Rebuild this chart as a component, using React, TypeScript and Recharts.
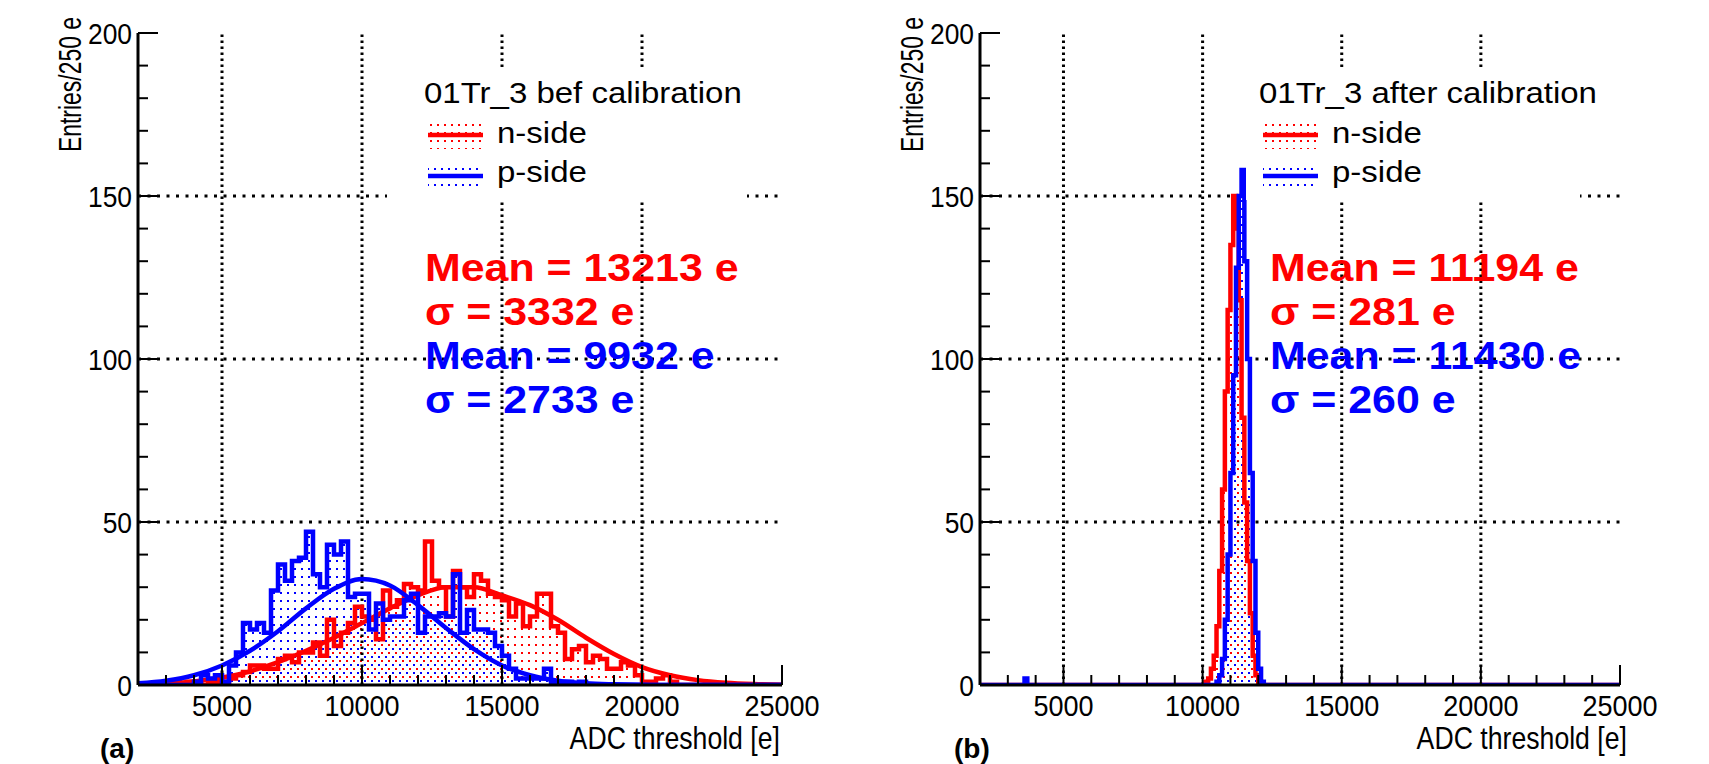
import React from 'react';
import { ComposedChart, Line, Area, XAxis, YAxis, ReferenceLine } from 'recharts';

// ---- panel (a): before calibration, 250 e bins starting at 2000 e ----
const beforeBinStart = 2000;
const beforeBinWidth = 250;
const nSideBefore = [
  0, 0, 0, 0, 0, 1, 0, 1, 1, 0, 1, 1, 1, 2, 3, 4, 6, 6, 5, 5,
  8, 9, 7, 10, 10, 13, 9, 20, 12, 16, 19, 24, 21, 20, 14, 29, 24, 26, 31, 30,
  29, 44, 32, 30, 21, 35, 30, 27, 34, 32, 28, 27, 26, 21, 25, 18, 21, 28, 28, 18,
  16, 8, 11, 12, 7, 9, 8, 5, 5, 7, 6, 3, 1, 1, 2, 3, 1, 0, 0, 0,
  0, 0, 0, 0, 0, 0, 0, 0, 0, 0, 0, 0,
];
const pSideBefore = [
  0, 0, 0, 0, 0, 0, 0, 0, 1, 3, 2, 3, 1, 6, 10, 19, 17, 19, 16, 29,
  37, 32, 38, 39, 47, 34, 30, 43, 40, 44, 27, 28, 28, 17, 25, 20, 21, 21, 26, 28,
  16, 21, 21, 22, 21, 34, 16, 23, 17, 17, 16, 12, 9, 5, 2, 2, 2, 2, 5, 1,
  0, 1, 0, 1, 0, 0, 0, 0, 0, 0, 0, 0, 0, 0, 0, 0, 0, 0, 0, 0,
  0, 0, 0, 0, 0, 0, 0, 0, 0, 0, 0, 0,
];
// gaussian fit curves, read every 1000 e
const fitX = [2000, 3000, 4000, 5000, 6000, 7000, 8000, 9000, 10000, 11000, 12000, 13000,
  14000, 15000, 16000, 17000, 18000, 19000, 20000, 21000, 22000, 23000, 24000, 25000];
const nFitBefore = [0.2, 0.5, 1.1, 2.3, 4.2, 7, 10.5, 14.5, 19, 23.5, 27.5, 30,
  30, 27.5, 24.5, 20, 14.5, 9.5, 5.5, 3, 1.5, 0.7, 0.3, 0.1];
const pFitBefore = [0.5, 1.3, 3, 6, 10.5, 16.5, 23.5, 29.5, 32.5, 30.5, 24.5, 17.5,
  11, 6, 3, 1.3, 0.5, 0.2, 0.05, 0, 0, 0, 0, 0];

// ---- panel (b): after calibration, bin low edges ----
const afterEdges = [2000, 3600, 3700, 10100, 10200, 10300, 10400, 10500, 10600, 10700, 10800,
  10900, 11000, 11100, 11200, 11300, 11400, 11500, 11600, 11700, 11800, 11900, 12000, 12100, 12200, 25000];
const nSideAfter = [0, 0, 0, 1, 2, 5, 9, 18, 35, 60, 90,
  115, 135, 150, 140, 118, 82, 56, 38, 22, 9, 3, 1, 0, 0, 0];
const pSideAfter = [0, 2, 0, 0, 0, 0, 0, 1, 3, 8, 20,
  40, 65, 95, 128, 150, 158, 130, 100, 65, 38, 16, 5, 1, 0, 0];

// ---- axes ----
const xTickValues = [3000, 4000, 5000, 6000, 7000, 8000, 9000, 10000, 11000, 12000, 13000, 14000,
  15000, 16000, 17000, 18000, 19000, 20000, 21000, 22000, 23000, 24000, 25000];
const xMajor = [5000, 10000, 15000, 20000, 25000];
const yTickValues = [0, 10, 20, 30, 40, 50, 60, 70, 80, 90, 100, 110, 120, 130, 140, 150, 160, 170, 180, 190, 200];
const yMajor = [0, 50, 100, 150, 200];
const xGrid = [5000, 10000, 15000, 20000];
const yGrid = [50, 100, 150];

const statsBefore = [
  { text: 'Mean = 13213 e', color: '#ff0000' },
  { text: 'σ = 3332 e', color: '#ff0000' },
  { text: 'Mean = 9932 e', color: '#0000ff' },
  { text: 'σ = 2733 e', color: '#0000ff' },
];
const statsAfter = [
  { text: 'Mean = 11194 e', color: '#ff0000' },
  { text: 'σ = 281 e', color: '#ff0000' },
  { text: 'Mean = 11430 e', color: '#0000ff' },
  { text: 'σ = 260 e', color: '#0000ff' },
];

const RED = '#ff0000';
const BLUE = '#0000ff';
const FONT = "'Liberation Sans', Arial, Helvetica, sans-serif";

const beforeRows = nSideBefore.map((n, i) => {
  const x = beforeBinStart + i * beforeBinWidth;
  const k = fitX.indexOf(x);
  return { x, n, p: pSideBefore[i], nFit: k >= 0 ? nFitBefore[k] : null, pFit: k >= 0 ? pFitBefore[k] : null };
});
beforeRows.push({
  x: beforeBinStart + nSideBefore.length * beforeBinWidth,
  n: nSideBefore[nSideBefore.length - 1],
  p: pSideBefore[pSideBefore.length - 1],
  nFit: nFitBefore[nFitBefore.length - 1],
  pFit: pFitBefore[pFitBefore.length - 1],
});

const afterRows = afterEdges.map((x, i) => ({ x, n: nSideAfter[i], p: pSideAfter[i] }));

const XTick = (props: any) => {
  const { x, y, payload } = props;
  const major = xMajor.includes(payload.value);
  return (
    <g>
      <line x1={x} y1={y} x2={x} y2={y - (major ? 20 : 10)} stroke="#000" strokeWidth={2} />
      {major && (
        <text transform={`translate(${x},${y + 31}) scale(0.9,1)`} textAnchor="middle" fontSize={30}
          fontFamily={FONT} fill="#000">
          {payload.value}
        </text>
      )}
    </g>
  );
};

const YTick = (props: any) => {
  const { x, y, payload } = props;
  const major = yMajor.includes(payload.value);
  return (
    <g>
      <line x1={x} y1={y} x2={x + (major ? 20 : 10)} y2={y} stroke="#000" strokeWidth={2} />
      {major && (
        <text transform={`translate(${x - 6},${y + 11}) scale(0.88,1)`} textAnchor="end" fontSize={30}
          fontFamily={FONT} fill="#000">
          {payload.value}
        </text>
      )}
    </g>
  );
};

type PanelProps = {
  rows: any[];
  withFit: boolean;
  rightMargin: number;
  header: string;
  stats: { text: string; color: string }[];
  panelLabel: string;
  legendX: number;
  box: [number, number];
  statsX: number;
  titleRight: number;
  labelX: number;
};

function Panel(p: PanelProps) {
  return (
    <div style={{ position: 'relative', width: 840, height: 764 }}>
      <ComposedChart width={840} height={764} data={p.rows}
        margin={{ top: 33, right: p.rightMargin, bottom: 0, left: 78 }}>
        <XAxis dataKey="x" type="number" domain={[2000, 25000]} allowDataOverflow ticks={xTickValues}
          interval={0} tick={<XTick />} tickLine={false} tickSize={0} tickMargin={0} height={79}
          axisLine={{ stroke: '#000', strokeWidth: 3 }} />
        <XAxis xAxisId="top" orientation="top" type="number" domain={[2000, 25000]} tick={false}
          tickLine={false} height={0} axisLine={{ stroke: '#000', strokeWidth: 2 }} />
        <YAxis type="number" domain={[0, 200]} ticks={yTickValues} interval={0} tick={<YTick />}
          tickLine={false} tickSize={0} tickMargin={0} width={60} allowDataOverflow
          axisLine={{ stroke: '#000', strokeWidth: 3 }} />
        <YAxis yAxisId="right" orientation="right" type="number" domain={[0, 200]} tick={false}
          tickLine={false} width={0} axisLine={{ stroke: '#000', strokeWidth: 2 }} />
        {xGrid.map((v) => (
          <ReferenceLine key={'gx' + v} x={v} stroke="#000" strokeWidth={3} strokeDasharray="2.5 3.5" />
        ))}
        {yGrid.map((v) => (
          <ReferenceLine key={'gy' + v} y={v} stroke="#000" strokeWidth={3} strokeDasharray="3 6.5" />
        ))}
        <Area dataKey="n" type="stepAfter" fill="url(#dotsRed)" fillOpacity={1} stroke="none" isAnimationActive={false} />
        <Area dataKey="p" type="stepAfter" fill="url(#dotsBlue)" fillOpacity={1} stroke="none" isAnimationActive={false} />
        <Line dataKey="n" type="stepAfter" stroke={RED} strokeWidth={4.5} dot={false} isAnimationActive={false} />
        {p.withFit && (
          <Line dataKey="nFit" type="monotone" connectNulls stroke={RED} strokeWidth={4.5} dot={false} isAnimationActive={false} />
        )}
        <Line dataKey="p" type="stepAfter" stroke={BLUE} strokeWidth={4.5} dot={false} isAnimationActive={false} />
        {p.withFit && (
          <Line dataKey="pFit" type="monotone" connectNulls stroke={BLUE} strokeWidth={4.5} dot={false} isAnimationActive={false} />
        )}
      </ComposedChart>
      <svg width={840} height={764} style={{ position: 'absolute', left: 0, top: 0, pointerEvents: 'none' }}>
        <rect x={p.box[0]} y={70} width={p.box[1]} height={130} fill="#fff" />
        <text transform={`translate(${p.legendX},103) scale(1.1,1)`} fontSize={30} fontFamily={FONT} fill="#000">
          {p.header}
        </text>
        <rect x={p.legendX + 4} y={122} width={55} height={27} fill="url(#dotsRed)" />
        <line x1={p.legendX + 4} x2={p.legendX + 59} y1={135} y2={135} stroke={RED} strokeWidth={4.5} />
        <text transform={`translate(${p.legendX + 73},143) scale(1.1,1)`} fontSize={30} fontFamily={FONT} fill="#000">n-side</text>
        <rect x={p.legendX + 4} y={163} width={55} height={27} fill="url(#dotsBlue)" />
        <line x1={p.legendX + 4} x2={p.legendX + 59} y1={176} y2={176} stroke={BLUE} strokeWidth={4.5} />
        <text transform={`translate(${p.legendX + 73},182) scale(1.1,1)`} fontSize={30} fontFamily={FONT} fill="#000">p-side</text>
        {p.stats.map((s, i) => (
          <text key={i} transform={`translate(${p.statsX},${281 + i * 44}) scale(1.1,1)`} fontSize={39}
            fontWeight="bold" fontFamily={FONT} fill={s.color}>
            {s.text}
          </text>
        ))}
        <text transform={`translate(${p.titleRight},749) scale(0.86,1)`} textAnchor="end" fontSize={31}
          fontFamily={FONT} fill="#000">
          ADC threshold [e]
        </text>
        <text transform="translate(81,17) rotate(-90) scale(0.74,1)" textAnchor="end" fontSize={31}
          fontFamily={FONT} fill="#000">
          Entries/250 e
        </text>
        <text x={p.labelX} y={758} fontSize={28} fontWeight="bold" fontFamily={FONT} fill="#000">
          {p.panelLabel}
        </text>
      </svg>
    </div>
  );
}

export default function App() {
  return (
    <div style={{ position: 'absolute', left: 0, top: 0, width: 1709, height: 764, background: '#fff' }}>
      <svg width={0} height={0} style={{ position: 'absolute' }}>
        <defs>
          <pattern id="dotsRed" x={0} y={0} width={7} height={8} patternUnits="userSpaceOnUse">
            <rect x={3} y={4} width={2} height={2} fill={RED} />
          </pattern>
          <pattern id="dotsBlue" x={0} y={0} width={7} height={8} patternUnits="userSpaceOnUse">
            <rect x={0} y={0} width={2} height={2} fill={BLUE} />
          </pattern>
        </defs>
      </svg>
      <div style={{ position: 'absolute', left: 0, top: 0 }}>
        <Panel rows={beforeRows} withFit rightMargin={58} header="01Tr_3 bef calibration" stats={statsBefore}
          panelLabel="(a)" legendX={424} box={[387, 360]} statsX={425} titleRight={780} labelX={100} />
      </div>
      <div style={{ position: 'absolute', left: 842, top: 0 }}>
        <Panel rows={afterRows} withFit={false} rightMargin={62} header="01Tr_3 after calibration" stats={statsAfter}
          panelLabel="(b)" legendX={417} box={[404, 334]} statsX={428} titleRight={785} labelX={112} />
      </div>
    </div>
  );
}
